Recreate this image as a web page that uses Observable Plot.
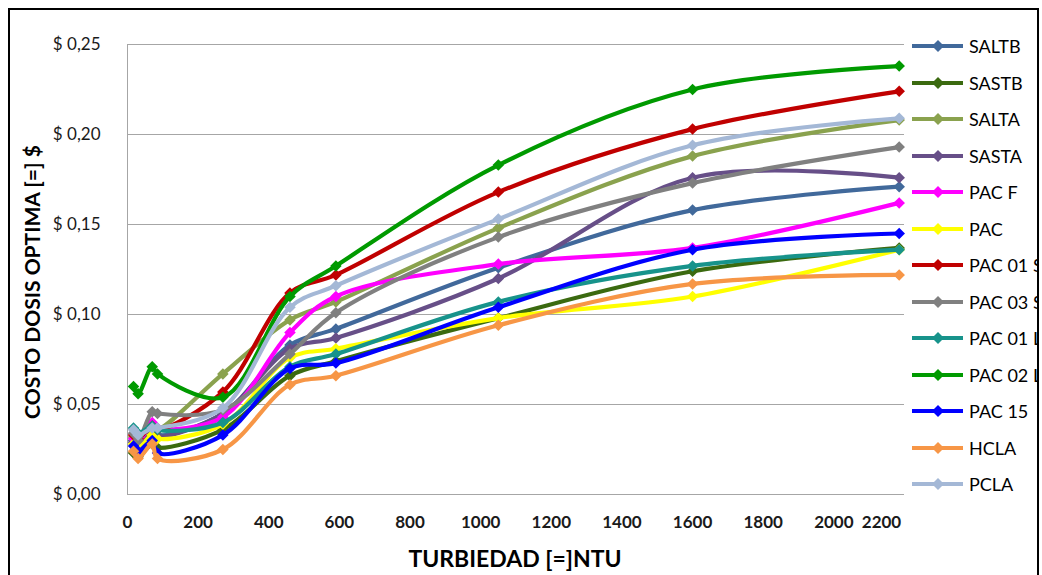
<!DOCTYPE html>
<html>
<head>
<meta charset="utf-8">
<script src="https://cdn.jsdelivr.net/npm/d3@7"></script>
<script src="https://cdn.jsdelivr.net/npm/@observablehq/plot@0.6"></script>
<style>
  html, body { margin: 0; padding: 0; background: #fff; }
  #wrap { position: relative; width: 1042px; height: 575px; overflow: hidden; font-family: Lato, "Open Sans", sans-serif; }
  #frame { position: absolute; left: 8px; top: 8px; width: 1027px; height: 640px; border: 2px solid #000; overflow: hidden; }
  #chart { position: absolute; left: 0; top: 0; }
  .ytitle { position: absolute; left: 31px; top: 282px; transform: translate(-50%, -50%) rotate(-90deg); white-space: nowrap; font-weight: bold; font-size: 21px; color: #000; }
  .xtitle { position: absolute; left: 515px; top: 558px; transform: translate(-50%, -50%); white-space: nowrap; font-weight: bold; font-size: 23px; color: #000; }
  .leg { position: absolute; display: flex; align-items: center; font-size: 18px; color: #000; white-space: nowrap; }
  .leg svg { margin-right: 5px; }
</style>
</head>
<body>
<div id="wrap">
  <div id="chart"></div>
  <div id="frame"></div>
  <div class="ytitle">COSTO DOSIS OPTIMA [=] $</div>
  <div class="xtitle">TURBIEDAD [=]NTU</div>
</div>
<script>
const turbidity = [17, 30, 70, 85, 270, 460, 590, 1050, 1600, 2185];
const seriesNames = ["SALTB", "SASTB", "SALTA", "SASTA", "PAC F", "PAC", "PAC 01 S", "PAC 03 S", "PAC 01 L", "PAC 02 L", "PAC 15", "HCLA", "PCLA"];
const seriesColors = ["#41699b", "#3b6a10", "#8aa24e", "#674f88", "#ff00ff", "#ffff00", "#c00000", "#808080", "#17938b", "#009a00", "#0000ff", "#f79646", "#a4b8d6"];
const SALTB    = [0.030, 0.028, 0.036, 0.033, 0.045, 0.083, 0.092, 0.126, 0.158, 0.171];
const SASTB    = [0.023, 0.021, 0.028, 0.026, 0.036, 0.066, 0.074, 0.098, 0.124, 0.137];
const SALTA    = [0.032, 0.030, 0.037, 0.036, 0.067, 0.097, 0.107, 0.148, 0.188, 0.208];
const SASTA    = [0.029, 0.027, 0.034, 0.032, 0.045, 0.081, 0.087, 0.120, 0.176, 0.176];
const PACF     = [0.031, 0.029, 0.040, 0.037, 0.043, 0.090, 0.110, 0.128, 0.137, 0.162];
const PAC      = [0.028, 0.026, 0.033, 0.031, 0.039, 0.076, 0.081, 0.098, 0.110, 0.136];
const PAC01S   = [0.033, 0.031, 0.038, 0.036, 0.057, 0.112, 0.122, 0.168, 0.203, 0.224];
const PAC03S   = [0.034, 0.030, 0.046, 0.045, 0.047, 0.078, 0.101, 0.143, 0.173, 0.193];
const PAC01L   = [0.037, 0.034, 0.038, 0.036, 0.040, 0.071, 0.078, 0.107, 0.127, 0.136];
const PAC02L   = [0.060, 0.056, 0.071, 0.067, 0.054, 0.110, 0.127, 0.183, 0.225, 0.238];
const PAC15    = [0.027, 0.024, 0.030, 0.023, 0.033, 0.070, 0.073, 0.104, 0.136, 0.145];
const HCLA     = [0.024, 0.020, 0.028, 0.020, 0.025, 0.061, 0.066, 0.094, 0.117, 0.122];
const PCLA     = [0.036, 0.033, 0.037, 0.037, 0.048, 0.104, 0.116, 0.153, 0.194, 0.209];
const seriesValues = [SALTB, SASTB, SALTA, SASTA, PACF, PAC, PAC01S, PAC03S, PAC01L, PAC02L, PAC15, HCLA, PCLA];
const xTicks = [0, 200, 400, 600, 800, 1000, 1200, 1400, 1600, 1800, 2000, 2200];
const yTicks = [0, 0.05, 0.10, 0.15, 0.20, 0.25];

const data = seriesNames.flatMap((name, i) => turbidity.map((x, j) => ({name, x, y: seriesValues[i][j]})));

const seriesMarks = seriesNames.flatMap(name => {
  const d = data.filter(r => r.name === name);
  return [
    Plot.line(d, {x: "x", y: "y", stroke: "name", strokeWidth: 4.2, curve: "catmull-rom"}),
    Plot.dot(d, {x: "x", y: "y", fill: "name", symbol: "diamond2", r: 5.2})
  ];
});

const yFmt = d => "$ " + d.toFixed(2).replace(".", ",");

const chart = Plot.plot({
  width: 1042,
  height: 575,
  marginLeft: 127,
  marginRight: 138,
  marginTop: 44,
  marginBottom: 81,
  style: {fontFamily: "Lato, 'Open Sans', sans-serif", fontSize: "17px", color: "#1a1a1a", background: "transparent"},
  x: {domain: [0, 2200]},
  y: {domain: [0, 0.25]},
  color: {domain: seriesNames, range: seriesColors},
  marks: [
    Plot.gridY(yTicks, {stroke: "#a6a6a6", strokeOpacity: 1, strokeWidth: 1}),
    Plot.ruleX([0], {stroke: "#a6a6a6", strokeWidth: 1}),
    Plot.ruleY([0], {stroke: "#a6a6a6", strokeWidth: 1}),
    Plot.axisY({ticks: yTicks, tickFormat: yFmt, tickSize: 0, tickPadding: 27, label: null, fontSize: 17}),
    Plot.axisX({ticks: xTicks, tickFormat: d => String(d), tickSize: 0, tickPadding: 21, label: null, fontSize: 17, fontWeight: "bold"}),
    ...seriesMarks
  ]
});
document.getElementById("chart").appendChild(chart);

// shift last x tick label left like the original
const xLabels = d3.select(chart).selectAll("g[aria-label='x-axis tick label'] text");
const nodes = xLabels.nodes();
if (nodes.length) d3.select(nodes[nodes.length - 1]).attr("dx", -23);

// legend
const frame = document.getElementById("frame");
seriesNames.forEach((name, i) => {
  const el = document.createElement("div");
  el.className = "leg";
  el.style.left = (912 - 10) + "px";
  el.style.top = (46 + i * 36.5 - 10 - 12) + "px";
  el.style.height = "24px";
  const c = seriesColors[i];
  el.innerHTML = `<svg width="52" height="24"><line x1="0" y1="12" x2="51" y2="12" stroke="${c}" stroke-width="4"/><path d="M26,6L32,12L26,18L20,12Z" fill="${c}"/></svg><span>${name}</span>`;
  frame.appendChild(el);
});
</script>
</body>
</html>
